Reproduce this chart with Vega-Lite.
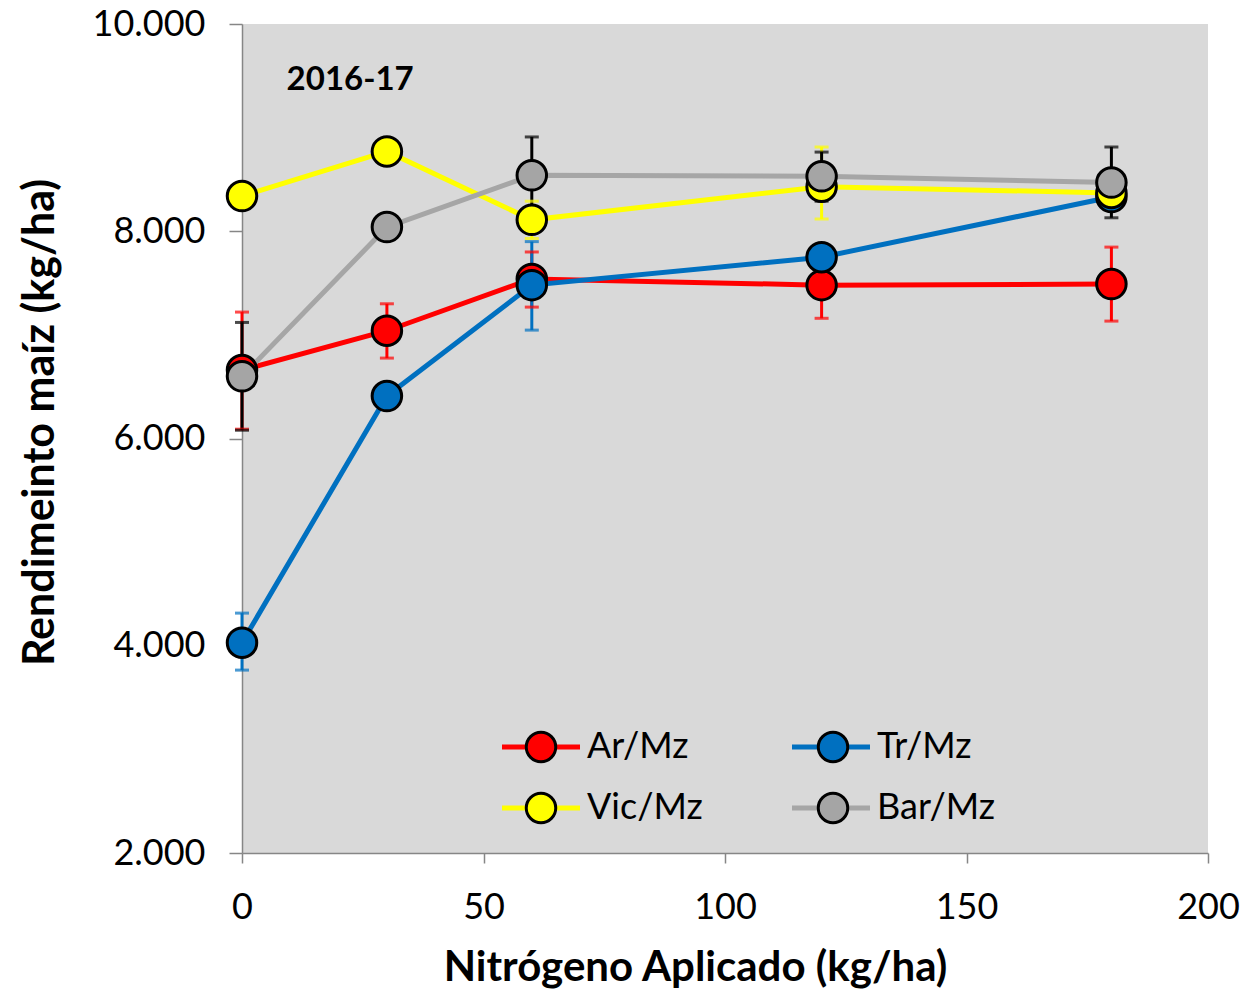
{
  "$schema": "https://vega.github.io/schema/vega-lite/v6.json",
  "width": 966,
  "height": 829,
  "autosize": "none",
  "padding": {"left": 242, "top": 24, "right": 37, "bottom": 140},
  "background": "white",
  "config": {
    "view": {"fill": "#D9D9D9", "stroke": null},
    "font": "Lato",
    "axis": {"grid": false, "labelFlush": false, "labelOverlap": false, "domainColor": "#868686", "tickColor": "#868686", "domainWidth": 1.5, "tickWidth": 1.5, "labelFontSize": 36, "labelColor": "#000000", "titleFontSize": 42, "titleFontWeight": "bold", "titleColor": "#000000", "labelFont": "Lato", "titleFont": "Lato"}
  },
  "datasets": {
    "main": [
      {"serie": "Ar/Mz", "n": 0, "y": 6660, "lo": 6090, "hi": 7220},
      {"serie": "Ar/Mz", "n": 30, "y": 7040, "lo": 6776, "hi": 7300},
      {"serie": "Ar/Mz", "n": 60, "y": 7540, "lo": 7268, "hi": 7800},
      {"serie": "Ar/Mz", "n": 120, "y": 7480, "lo": 7160, "hi": 7800},
      {"serie": "Ar/Mz", "n": 180, "y": 7490, "lo": 7133, "hi": 7847},
      {"serie": "Tr/Mz", "n": 0, "y": 4030, "lo": 3765, "hi": 4315},
      {"serie": "Tr/Mz", "n": 30, "y": 6410, "lo": 6300, "hi": 6520},
      {"serie": "Tr/Mz", "n": 60, "y": 7480, "lo": 7046, "hi": 7900},
      {"serie": "Tr/Mz", "n": 120, "y": 7750, "lo": 7650, "hi": 7850},
      {"serie": "Tr/Mz", "n": 180, "y": 8330, "lo": 8230, "hi": 8430},
      {"serie": "Vic/Mz", "n": 0, "y": 8340, "lo": 8240, "hi": 8440},
      {"serie": "Vic/Mz", "n": 30, "y": 8770, "lo": 8670, "hi": 8870},
      {"serie": "Vic/Mz", "n": 60, "y": 8110, "lo": 7930, "hi": 8290},
      {"serie": "Vic/Mz", "n": 120, "y": 8430, "lo": 8118, "hi": 8813},
      {"serie": "Vic/Mz", "n": 180, "y": 8370, "lo": 8250, "hi": 8490},
      {"serie": "Bar/Mz", "n": 0, "y": 6600, "lo": 6080, "hi": 7120},
      {"serie": "Bar/Mz", "n": 30, "y": 8040, "lo": 7940, "hi": 8140},
      {"serie": "Bar/Mz", "n": 60, "y": 8540, "lo": 8170, "hi": 8910},
      {"serie": "Bar/Mz", "n": 120, "y": 8530, "lo": 8290, "hi": 8764},
      {"serie": "Bar/Mz", "n": 180, "y": 8470, "lo": 8130, "hi": 8813}
    ],
    "note": [{"label": "2016-17", "n": 22.4, "y": 9460}]
  },
  "resolve": {"scale": {"color": "independent"}, "legend": {"color": "independent"}},
  "layer": [
    {
      "data": {"name": "main"},
      "mark": {"type": "line", "strokeWidth": 5},
      "encoding": {
        "x": {"field": "n", "type": "quantitative", "scale": {"domain": [0, 200], "nice": false},
          "axis": {"values": [0, 50, 100, 150, 200], "tickSize": 10, "labelPadding": 27, "title": "Nitrógeno Aplicado (kg/ha)", "titleX": 453, "titleY": 127, "titleBaseline": "alphabetic", "titleAlign": "center", "titleAnchor": null}},
        "y": {"field": "y", "type": "quantitative", "scale": {"domain": [2000, 10000], "nice": false, "zero": false},
          "axis": {"values": [2000, 4000, 6000, 8000, 10000], "tickSize": 13, "labelPadding": 24, "labelExpr": "replace(format(datum.value, ','), ',', '.')", "title": "Rendimeinto maíz (kg/ha)", "titleFontSize": 43, "titleX": -202, "titleY": 398, "titleAngle": -90, "titleBaseline": "middle", "titleAlign": "center"}},
        "color": {"field": "serie", "type": "nominal",
          "scale": {"domain": ["Ar/Mz", "Vic/Mz", "Tr/Mz", "Bar/Mz"], "range": ["#FF0000", "#FFFF00", "#0070C0", "#A6A6A6"]},
          "legend": {"orient": "none", "legendX": 257.5, "legendY": 705, "columns": 2, "columnPadding": 86, "rowPadding": 25, "clipHeight": 36, "padding": 0, "title": null, "symbolType": "stroke", "symbolSize": 6084, "symbolStrokeWidth": 5, "labelFontSize": 36, "labelOffset": 4.5, "labelColor": "#000000", "labelFont": "Lato"}}
      }
    },
    {
      "data": {"name": "main"},
      "mark": {"type": "rule", "strokeWidth": 3},
      "encoding": {
        "x": {"field": "n", "type": "quantitative"},
        "y": {"field": "lo", "type": "quantitative"},
        "y2": {"field": "hi"},
        "color": {"field": "serie", "type": "nominal",
          "scale": {"domain": ["Ar/Mz", "Tr/Mz", "Vic/Mz", "Bar/Mz"], "range": ["#FF0000", "#0070C0", "#FFFF00", "#000000"]}, "legend": null}
      }
    },
    {
      "data": {"name": "main"},
      "mark": {"type": "tick", "orient": "horizontal", "size": 14, "thickness": 3},
      "encoding": {
        "x": {"field": "n", "type": "quantitative"},
        "y": {"field": "lo", "type": "quantitative"},
        "color": {"field": "serie", "type": "nominal",
          "scale": {"domain": ["Ar/Mz", "Tr/Mz", "Vic/Mz", "Bar/Mz"], "range": ["#FF0000", "#0070C0", "#FFFF00", "#000000"]}, "legend": null}
      }
    },
    {
      "data": {"name": "main"},
      "mark": {"type": "tick", "orient": "horizontal", "size": 14, "thickness": 3},
      "encoding": {
        "x": {"field": "n", "type": "quantitative"},
        "y": {"field": "hi", "type": "quantitative"},
        "color": {"field": "serie", "type": "nominal",
          "scale": {"domain": ["Ar/Mz", "Tr/Mz", "Vic/Mz", "Bar/Mz"], "range": ["#FF0000", "#0070C0", "#FFFF00", "#000000"]}, "legend": null}
      }
    },
    {
      "data": {"name": "main"},
      "mark": {"type": "point", "filled": true, "shape": "circle", "size": 870, "stroke": "#000000", "strokeWidth": 3, "opacity": 1},
      "encoding": {
        "x": {"field": "n", "type": "quantitative"},
        "y": {"field": "y", "type": "quantitative"},
        "color": {"field": "serie", "type": "nominal",
          "scale": {"domain": ["Ar/Mz", "Vic/Mz", "Tr/Mz", "Bar/Mz"], "range": ["#FF0000", "#FFFF00", "#0070C0", "#A5A5A5"]},
          "legend": {"orient": "none", "legendX": 257.5, "legendY": 705, "columns": 2, "columnPadding": 181, "rowPadding": 25, "clipHeight": 36, "padding": 0, "title": null, "symbolType": "circle", "symbolSize": 870, "symbolStrokeWidth": 3, "symbolStrokeColor": "#000000", "symbolOpacity": 1, "symbolOffset": 23.5, "labelFontSize": 36, "labelOffset": 51.5, "labelExpr": "''", "labelFont": "Lato"}}
      }
    },
    {
      "data": {"name": "note"},
      "mark": {"type": "text", "fontSize": 33, "fontWeight": "bold", "font": "Lato", "color": "#000000", "align": "center", "baseline": "middle"},
      "encoding": {
        "x": {"field": "n", "type": "quantitative"},
        "y": {"field": "y", "type": "quantitative"},
        "text": {"field": "label"}
      }
    }
  ]
}
